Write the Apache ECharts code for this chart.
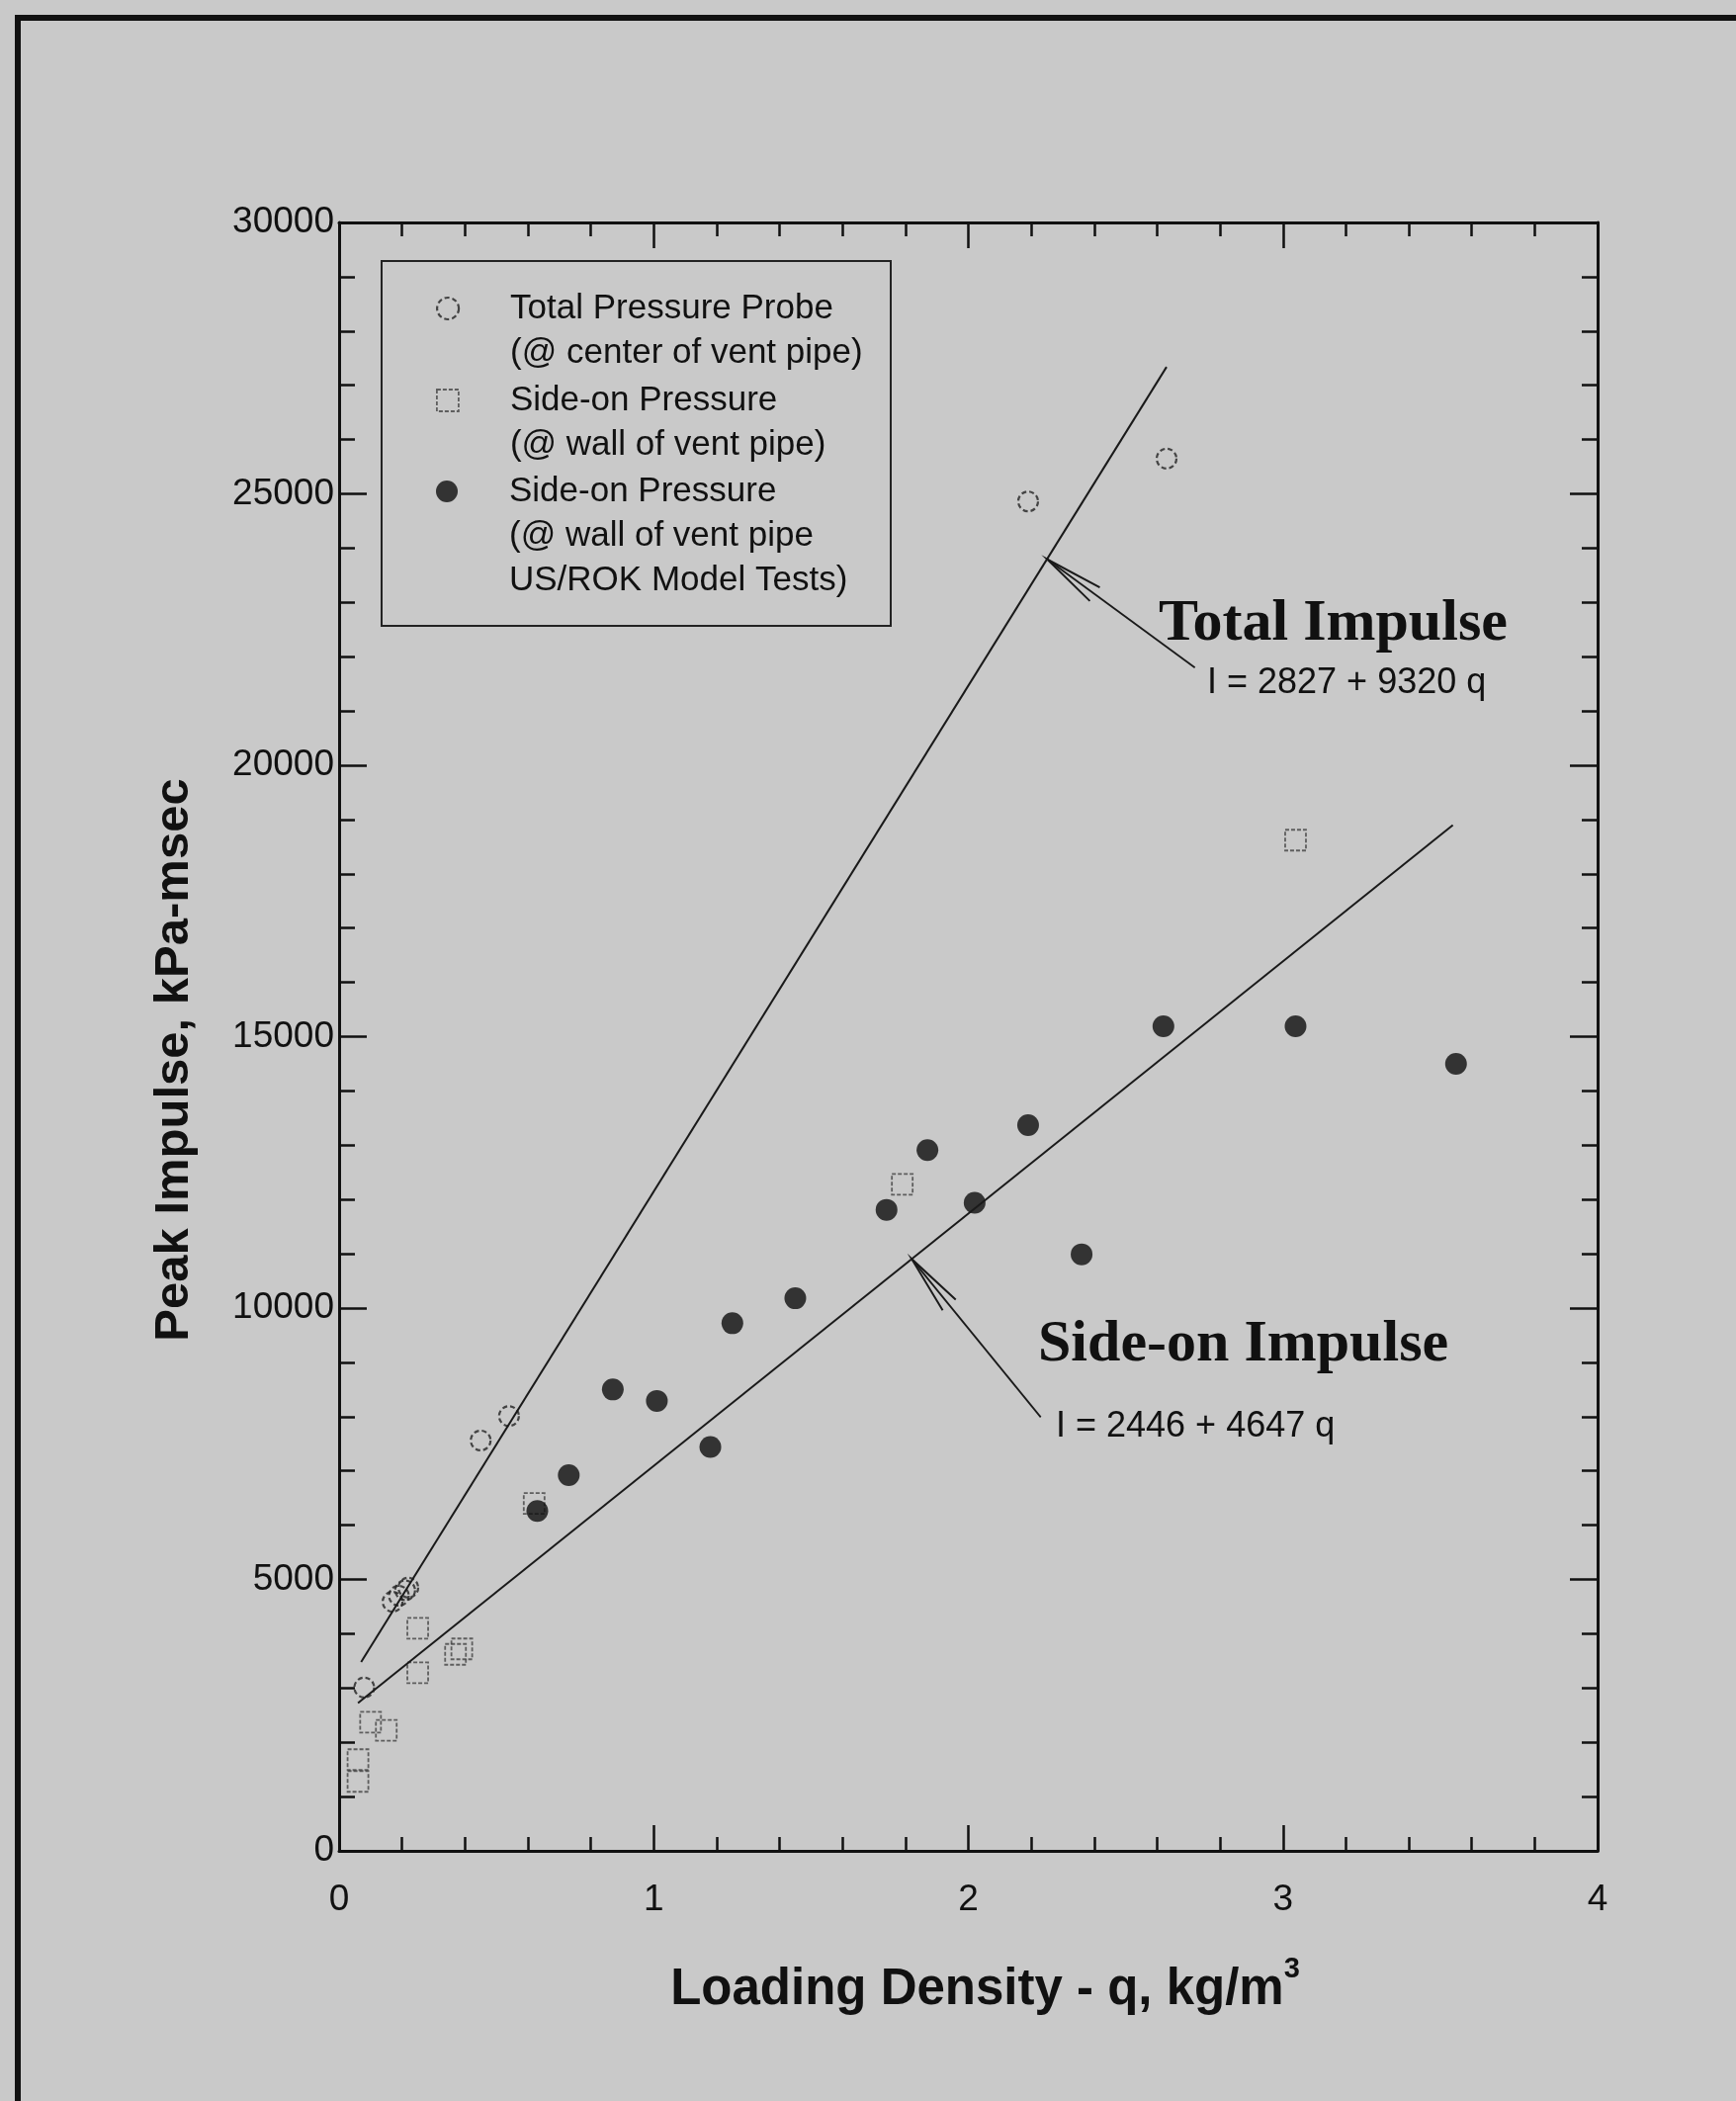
<!DOCTYPE html>
<html>
<head>
<meta charset="utf-8">
<script src="https://cdn.jsdelivr.net/npm/echarts@6/dist/echarts.min.js"></script>
<style>
  html, body { margin: 0; padding: 0; background: #c9c9c9; }
  #chart { width: 1756px; height: 2125px; }
</style>
</head>
<body>
<div id="chart"></div>
<script>
// Peak impulse against loading density for the vent-pipe gauges.
// Each point is [q (kg/m^3), I (kPa-msec)].
const totalProbe = [[0.08, 3010], [0.17, 4590], [0.19, 4700], [0.21, 4800], [0.22, 4850],
  [0.45, 7560], [0.54, 8010], [2.19, 24860], [2.63, 25650]];
const sideWall = [[0.06, 1280], [0.06, 1680], [0.10, 2370], [0.15, 2220], [0.25, 3280],
  [0.25, 4100], [0.37, 3620], [0.39, 3720], [0.62, 6400], [1.79, 12280], [3.04, 18620]];
const sideModel = [[0.63, 6260], [0.73, 6920], [0.87, 8500], [1.01, 8290], [1.18, 7440],
  [1.25, 9720], [1.45, 10180], [1.74, 11810], [1.87, 12910], [2.02, 11940], [2.19, 13370],
  [2.36, 10990], [2.62, 15190], [3.04, 15190], [3.55, 14500]];

// Fitted lines I = a + b q, drawn over the given q span
const totalFit = { a: 2827, b: 9320, q: [0.07, 2.63] };
const sideFit = { a: 2446, b: 4647, q: [0.06, 3.54] };

// Leader arrows: tail point and the q where the arrow meets the fit line
const totalLeader = { tail: [2.72, 21800], tipQ: 2.25 };
const sideLeader = { tail: [2.23, 7990], tipQ: 1.82 };

// Axis ranges and tick steps
const xRange = [0, 4], xStep = 1;
const yRange = [0, 30000], yStep = 5000;

// Legend wording
const legendLines = {
  'Total Pressure Probe': ['Total Pressure Probe', '(@ center of vent pipe)'],
  'Side-on Pressure (wall)': ['Side-on Pressure', '(@ wall of vent pipe)'],
  'Side-on Pressure (US/ROK)': ['Side-on Pressure', '(@ wall of vent pipe', 'US/ROK Model Tests)']
};

const SANS = '"Liberation Sans", Arial, Helvetica, sans-serif';
const SERIF = '"Liberation Serif", "Times New Roman", serif';
const INK = '#111';
const LEGEND_LINE = 45;

const fitLine = f => f.q.map(q => [q, f.a + f.b * q]);
const fitAt = (f, q) => f.a + f.b * q;

function leaderMark(f, leader) {
  return {
    silent: true,
    animation: false,
    symbol: ['none', 'none'],
    label: { show: false },
    emphasis: { disabled: true },
    lineStyle: { color: '#1a1a1a', width: 1.8, type: 'solid' },
    data: [[
      { coord: leader.tail },
      { coord: [leader.tipQ, fitAt(f, leader.tipQ)] }
    ]]
  };
}

function axisCommon(isX, position, showLabel) {
  return {
    type: 'value',
    position: position,
    min: isX ? xRange[0] : yRange[0],
    max: isX ? xRange[1] : yRange[1],
    interval: isX ? xStep : yStep,
    splitLine: { show: false },
    axisLine: { show: true, onZero: false, lineStyle: { color: INK, width: 3 } },
    axisTick: { show: true, inside: true, length: isX ? 26 : 28, lineStyle: { color: INK, width: 2.5 } },
    minorTick: { show: true, splitNumber: 5, length: isX ? 14 : 16, lineStyle: { color: INK, width: 2.5 } },
    axisLabel: {
      show: showLabel,
      color: INK,
      fontFamily: SANS,
      fontSize: 37,
      margin: isX ? 31 : 5,
      formatter: v => String(v)
    }
  };
}

// One legend block per entry so each can be placed on its own; the leading
// blank lines keep the marker level with the first line of its caption.
function legendFor(name, top, iconStyle) {
  const lines = legendLines[name];
  const blank = new Array(lines.length - 1).fill('');
  return {
    data: [name],
    left: 441,
    top: top,
    orient: 'vertical',
    padding: 0,
    itemWidth: 22,
    itemHeight: 22,
    selectedMode: false,
    itemStyle: iconStyle,
    formatter: nm => blank.concat(legendLines[nm]).join('\n'),
    textStyle: {
      color: INK,
      fontFamily: SANS,
      fontSize: 35,
      lineHeight: LEGEND_LINE,
      padding: [0, 0, 0, 47]
    }
  };
}

const chart = echarts.init(document.getElementById('chart'), null, { renderer: 'canvas' });

const xBottom = axisCommon(true, 'bottom', true);
xBottom.name = '{t|Loading Density - q, kg/m}{sup|3}';
xBottom.nameLocation = 'middle';
xBottom.nameGap = 105;
xBottom.nameTextStyle = {
  padding: [0, 0, 0, 34],
  rich: {
    t: { fontFamily: SANS, fontSize: 51, fontWeight: 'bold', color: INK, lineHeight: 72 },
    sup: { fontFamily: SANS, fontSize: 29, fontWeight: 'bold', color: INK, lineHeight: 30, verticalAlign: 'top' }
  }
};

const baseGraphic = [
  // page frame
  {
    type: 'polyline', silent: true,
    shape: { points: [[18, 2125], [18, 18], [1756, 18]] },
    style: { stroke: '#111', lineWidth: 6, fill: null }
  },
  // legend box
  {
    type: 'rect', silent: true, z: 10,
    shape: { x: 386, y: 264, width: 515, height: 369 },
    style: { fill: null, stroke: '#222', lineWidth: 2 }
  },
  // y-axis title
  {
    type: 'text', silent: true, x: 176, y: 1072, rotation: Math.PI / 2,
    style: { text: 'Peak Impulse, kPa-msec', fontFamily: SANS, fontSize: 49, fontWeight: 'bold',
      fill: INK, align: 'center', verticalAlign: 'middle' }
  },
  // fit annotations
  {
    type: 'text', silent: true, x: 1172, y: 631,
    style: { text: 'Total Impulse', fontFamily: SERIF, fontSize: 60, fontWeight: 'bold',
      fill: INK, align: 'left', verticalAlign: 'middle' }
  },
  {
    type: 'text', silent: true, x: 1221, y: 691,
    style: { text: 'I = 2827 + 9320 q', fontFamily: SANS, fontSize: 36,
      fill: INK, align: 'left', verticalAlign: 'middle' }
  },
  {
    type: 'text', silent: true, x: 1050, y: 1360,
    style: { text: 'Side-on Impulse', fontFamily: SERIF, fontSize: 60, fontWeight: 'bold',
      fill: INK, align: 'left', verticalAlign: 'middle' }
  },
  {
    type: 'text', silent: true, x: 1068, y: 1443,
    style: { text: 'I = 2446 + 4647 q', fontFamily: SANS, fontSize: 36,
      fill: INK, align: 'left', verticalAlign: 'middle' }
  }
];

chart.setOption({
  backgroundColor: '#c9c9c9',
  animation: false,
  grid: { left: 343, right: 140, top: 225, bottom: 253, containLabel: false },
  xAxis: [xBottom, axisCommon(true, 'top', false)],
  yAxis: [axisCommon(false, 'left', true), axisCommon(false, 'right', false)],
  legend: [
    legendFor('Total Pressure Probe', 312 - 1.5 * LEGEND_LINE, { borderType: [5, 3], borderWidth: 2.2 }),
    legendFor('Side-on Pressure (wall)', 405 - 1.5 * LEGEND_LINE, { borderType: [4, 2], borderWidth: 1.8 }),
    legendFor('Side-on Pressure (US/ROK)', 497 - 2.5 * LEGEND_LINE, {})
  ],
  series: [
    {
      name: 'Side-on Pressure (wall)',
      type: 'scatter',
      data: sideWall,
      symbol: 'rect',
      symbolSize: 21,
      itemStyle: { color: 'rgba(0,0,0,0)', borderColor: '#444', borderWidth: 1.8, borderType: [4, 2] },
      emphasis: { disabled: true }
    },
    {
      name: 'Total Pressure Probe',
      type: 'scatter',
      data: totalProbe,
      symbol: 'circle',
      symbolSize: 20,
      itemStyle: { color: 'rgba(0,0,0,0)', borderColor: '#222', borderWidth: 2.2, borderType: [5, 3] },
      emphasis: { disabled: true }
    },
    {
      name: 'Side-on Pressure (US/ROK)',
      type: 'scatter',
      data: sideModel,
      symbol: 'circle',
      symbolSize: 22,
      itemStyle: { color: '#0e0e0e' },
      emphasis: { disabled: true }
    },
    {
      name: 'Total Impulse fit',
      type: 'line',
      data: fitLine(totalFit),
      showSymbol: false,
      silent: true,
      lineStyle: { color: '#1a1a1a', width: 2 },
      markLine: leaderMark(totalFit, totalLeader)
    },
    {
      name: 'Side-on Impulse fit',
      type: 'line',
      data: fitLine(sideFit),
      showSymbol: false,
      silent: true,
      lineStyle: { color: '#1a1a1a', width: 2 },
      markLine: leaderMark(sideFit, sideLeader)
    }
  ],
  graphic: baseGraphic
});

// Open arrowheads where each leader meets its fit line, placed through the grid's scales
function arrowHead(f, leader) {
  const tip = chart.convertToPixel({ gridIndex: 0 }, [leader.tipQ, fitAt(f, leader.tipQ)]);
  const tail = chart.convertToPixel({ gridIndex: 0 }, leader.tail);
  const dx = tail[0] - tip[0], dy = tail[1] - tip[1];
  const len = Math.hypot(dx, dy);
  const ux = dx / len, uy = dy / len, nx = -uy, ny = ux;
  const L = 60, W = 8.5;
  return {
    type: 'polyline', silent: true, z: 5,
    shape: { points: [
      [tip[0] + L * ux + W * nx, tip[1] + L * uy + W * ny],
      tip,
      [tip[0] + L * ux - W * nx, tip[1] + L * uy - W * ny]
    ] },
    style: { stroke: '#1a1a1a', lineWidth: 2, fill: null }
  };
}

chart.setOption({
  graphic: baseGraphic.concat([arrowHead(totalFit, totalLeader), arrowHead(sideFit, sideLeader)])
});
</script>
</body>
</html>
